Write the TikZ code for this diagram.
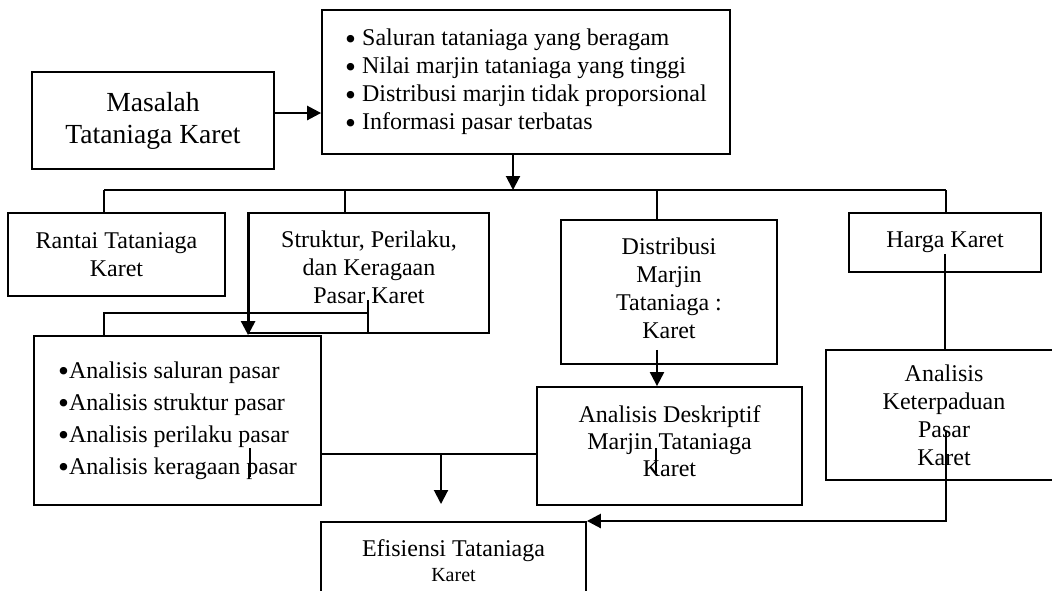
\documentclass[tikz,border=0pt]{standalone}
\usepackage{fontspec}
\setmainfont{Liberation Serif}
\usepackage{graphicx}
\usepackage{tikz}
\usetikzlibrary{shapes,arrows.meta,positioning,calc}

\newcommand{\blt}{\raisebox{-0.14em}{\scalebox{1.3}{\textbullet}}}

\begin{document}
\begin{tikzpicture}[x=0.5pt, y=-0.5pt, line width=0.9pt, >={Triangle[length=7pt,width=7pt]},
  box/.style={rectangle, draw, align=center, inner sep=2pt, font=\fontsize{12}{14}\selectfont},
  link/.style={line width=1pt},
  bold/.style={line width=1.3pt}]

\useasboundingbox (0,0) rectangle (1052,590);

\node (masalah) [box, minimum width=121pt, minimum height=48.5pt, font=\fontsize{13.8}{16}\selectfont] at (153,120.5) {Masalah\\Tataniaga Karet};
\node (masalahlist) [box, align=left, minimum width=204pt, minimum height=72pt] at (526,82) {\blt\ Saluran tataniaga yang beragam\\\blt\ Nilai marjin tataniaga yang tinggi\\\blt\ Distribusi marjin tidak proporsional\\\blt\ Informasi pasar terbatas};
\node (rantai) [box, minimum width=108.5pt, minimum height=41.5pt] at (116.5,254.5) {Rantai Tataniaga\\Karet};
\node (struktur) [box, minimum width=120pt, minimum height=60pt, text depth=6pt] at (369,273) {Struktur, Perilaku,\\dan Keragaan\\Pasar Karet};
\node (distribusi) [box, minimum width=108pt, minimum height=72pt, text depth=4pt] at (669,292) {Distribusi\\Marjin\\Tataniaga :\\Karet};
\node (harga) [box, minimum width=96pt, minimum height=29.5pt] at (945,242.5) {Harga Karet};
\node (analisispasar) [box, align=left, minimum width=143.5pt, minimum height=84.5pt, font=\fontsize{12}{16}\selectfont] at (177.5,420.5) {\blt Analisis saluran pasar\\\blt Analisis struktur pasar\\\blt Analisis perilaku pasar\\\blt Analisis keragaan pasar};
\node (deskriptif) [box, minimum width=132.5pt, minimum height=59pt, text depth=5pt, font=\fontsize{12}{13.5}\selectfont] at (669.5,446) {Analisis Deskriptif\\Marjin Tataniaga\\Karet};
\node (keterpaduan) [box, minimum width=118pt, minimum height=65pt] at (944,415) {Analisis\\Keterpaduan\\Pasar\\Karet};
\node (efisiensi) [box, anchor=north, minimum width=132.5pt, minimum height=39pt, font=\fontsize{12}{12.5}\selectfont] at (453.5,521) {Efisiensi Tataniaga\\{\fontsize{10}{12.5}\selectfont Karet}};

\coordinate (bus) at (513,190);
\coordinate (b1) at (104,190);
\coordinate (b2) at (345,190);
\coordinate (b3) at (657,190);
\coordinate (b4) at (946,190);
\coordinate (s1) at (368,300);
\coordinate (s2) at (368,332);
\coordinate (s3) at (368,313);
\coordinate (j1) at (441,454);
\coordinate (j2) at (441,504);
\coordinate (k1) at (946,432);
\coordinate (m1) at (250,448);
\coordinate (m2) at (250,477);
\coordinate (m3) at (656,448);
\coordinate (m4) at (656,473);

\draw[->, bold] ([yshift=3.75pt]masalah.east) -- ([yshift=3.75pt]masalah.east -| masalahlist.west);
\draw[->, link] (masalahlist.south -| bus) -- (bus);
\draw[link] (b1) -- (b4);
\draw[link] (b1) -- (b1 |- rantai.north);
\draw[link] (b2) -- (b2 |- struktur.north);
\draw[link] (b3) -- (b3 |- distribusi.north);
\draw[link] (b4) -- (b4 |- harga.north);

\draw[->, bold] (struktur.north west) -- (struktur.north west |- analisispasar.north);
\draw[line width=0.7pt] (s1) -- (s2);
\draw[line width=0.7pt] (s3) -| (b1 |- analisispasar.north);

\draw[->, link] ([yshift=7.5pt]distribusi.south -| b3) -- (b3 |- deskriptif.north);
\draw[link] ([yshift=9.5pt]harga.south) -- (harga.south |- keterpaduan.north);

\draw[link] (analisispasar.east |- j1) -- (deskriptif.west |- j1);
\draw[->, link] (j1) -- (j2);
\draw[line width=0.6pt] (m1) -- (m2);
\draw[line width=0.6pt] (m3) -- (m4);

\draw[->, bold] (k1) |- (efisiensi.north east);

\end{tikzpicture}
\end{document}
